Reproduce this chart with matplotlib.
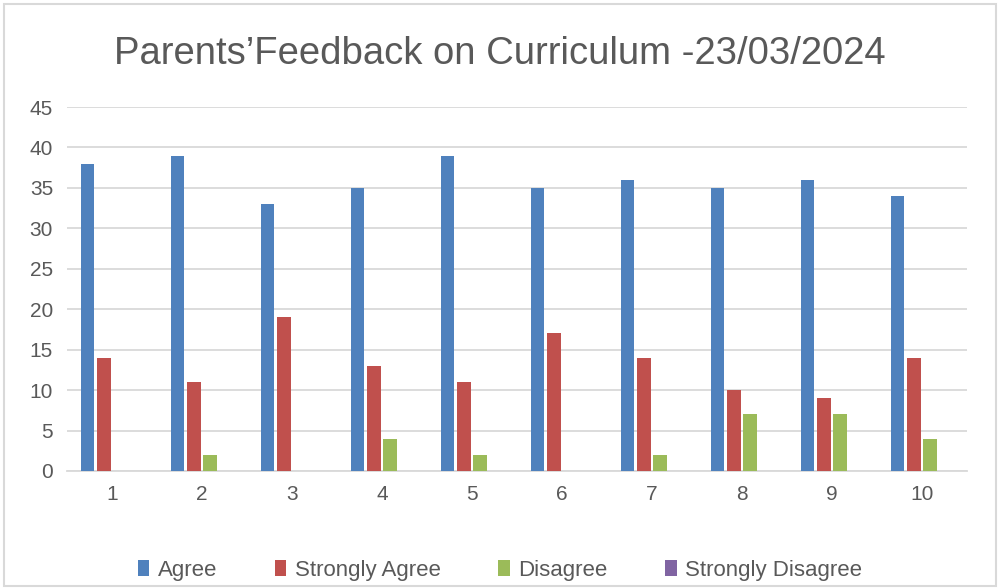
import matplotlib.pyplot as plt
from matplotlib.patches import Rectangle
import numpy as np

plt.rcParams['font.family'] = ['Liberation Sans', 'DejaVu Sans']

categories = ['1', '2', '3', '4', '5', '6', '7', '8', '9', '10']
agree = [38, 39, 33, 35, 39, 35, 36, 35, 36, 34]
strongly_agree = [14, 11, 19, 13, 11, 17, 14, 10, 9, 14]
disagree = [0, 2, 0, 4, 2, 0, 2, 7, 7, 4]
strongly_disagree = [0, 0, 0, 0, 0, 0, 0, 0, 0, 0]

series = [
    ('Agree', agree, '#4f81bd'),
    ('Strongly Agree', strongly_agree, '#c0504d'),
    ('Disagree', disagree, '#9bbb59'),
    ('Strongly Disagree', strongly_disagree, '#8064a2'),
]

fig = plt.figure(figsize=(10, 5.88), dpi=100)
ax = fig.add_axes([0.067, 0.199, 0.9, 0.619])

x = np.arange(len(categories))
step = 0.178
width = 0.145
for i, (name, vals, col) in enumerate(series):
    ax.bar(x + (i - 1.5) * step, vals, width, color=col, label=name, zorder=3)

ax.set_xlim(-0.5, len(categories) - 0.5)
ax.set_ylim(0, 45)
ax.set_yticks(range(0, 46, 5))
ax.set_xticks(x)
ax.set_xticklabels(categories)
ax.yaxis.grid(True, color='#d9d9d9', linewidth=1.3, zorder=0)
for s in ['top', 'right', 'left']:
    ax.spines[s].set_visible(False)
ax.spines['bottom'].set_color('#d9d9d9')
ax.spines['bottom'].set_linewidth(1.3)
ax.tick_params(axis='both', length=0, labelsize=15, labelcolor='#595959')
ax.tick_params(axis='x', pad=10)
ax.tick_params(axis='y', pad=10)

fig.text(0.5, 0.908, 'Parents\u2019Feedback on Curriculum -23/03/2024',
         ha='center', va='center', fontsize=27.5, color='#595959')

leg = fig.legend(loc='center', bbox_to_anchor=(0.5, 0.03), ncol=4, frameon=False,
                 fontsize=16, handlelength=0.5, handleheight=0.75, columnspacing=2.6,
                 handletextpad=0.4)
for t in leg.get_texts():
    t.set_color('#595959')

fig.patches.append(Rectangle((0.004, 0.004), 0.992, 0.99, transform=fig.transFigure,
                             fill=False, edgecolor='#d9d9d9', linewidth=1.5))

fig.savefig('out.png', dpi=100)
